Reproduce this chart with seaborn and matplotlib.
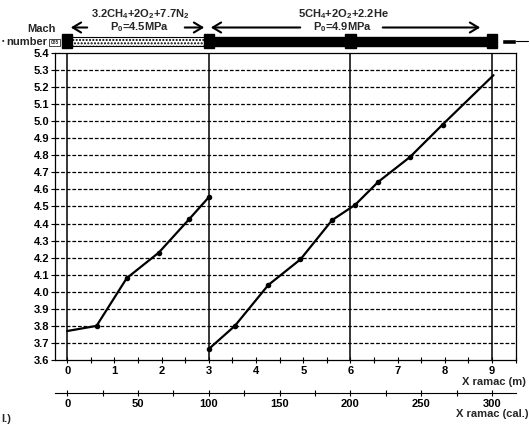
import numpy as np
import pandas as pd
import matplotlib
matplotlib.use("Agg")
import matplotlib.pyplot as plt
from matplotlib.patches import Rectangle
import seaborn as sns

# ---- data ----
seg1_x = [0.0, 0.62, 1.26, 1.94, 2.58, 3.0]
seg1_mach = [3.77, 3.80, 4.08, 4.23, 4.425, 4.555]
seg2_x = [3.0, 3.55, 4.26, 4.94, 5.61, 6.10, 6.59, 7.26, 7.95, 9.03]
seg2_mach = [3.665, 3.80, 4.04, 4.19, 4.42, 4.51, 4.645, 4.79, 4.98, 5.27]
m_ticks = list(range(0, 10))
cal_ticks = [0, 50, 100, 150, 200, 250, 300]
y_ticks = [round(3.6 + 0.1 * i, 1) for i in range(19)]
mix_labels = ["3.2CH$_4$+2O$_2$+7.7N$_2$", "5CH$_4$+2O$_2$+2.2He"]
press_labels = ["P$_0$=4.5MPa", "P$_0$=4.9MPa"]
stage_bounds = [0, 3, 6, 9]

sns.set_theme(style="white")
plt.rcParams['font.family'] = ['Liberation Sans', 'DejaVu Sans']
plt.rcParams['font.weight'] = 'bold'
plt.rcParams['mathtext.fontset'] = 'custom'
plt.rcParams['mathtext.rm'] = 'Liberation Sans:bold'
plt.rcParams['mathtext.it'] = 'Liberation Sans:bold'
plt.rcParams['mathtext.bf'] = 'Liberation Sans:bold'

FS = 8
W, H = 530, 424
fig = plt.figure(figsize=(W / 100, H / 100), dpi=100)
fig.patch.set_facecolor('white')

L, R, T, B = 55, 515.7, 53, 360
ax = fig.add_axes([L / W, 1 - B / H, (R - L) / W, (B - T) / H])
ax.set_facecolor('white')

df = pd.DataFrame({
    'x': seg1_x + seg2_x,
    'mach': seg1_mach + seg2_mach,
    'seg': [1] * len(seg1_x) + [2] * len(seg2_x),
})
# gridlines
for yv in y_ticks[1:-1]:
    ax.axhline(yv, color='black', lw=0.9, ls=(0, (3, 1.5)), zorder=1)
for xv in stage_bounds:
    ax.axvline(xv, color='black', lw=1.1, zorder=1)

sns.lineplot(data=df, x='x', y='mach', units='seg', estimator=None,
             color='black', lw=1.6, ax=ax, zorder=3)
marked = pd.concat([df[df.seg == 1].iloc[1:], df[df.seg == 2].iloc[:-1]])
sns.scatterplot(data=marked, x='x', y='mach', color='black', s=16,
                edgecolor='black', linewidth=0, ax=ax, zorder=4)

ax.set_xlim(-0.26, 9.5)
ax.set_ylim(3.6, 5.4)
ax.set_xlabel('')
ax.set_ylabel('')
ax.set_yticks(y_ticks)
ax.set_yticklabels([f"{v:.1f}" for v in y_ticks], fontsize=FS, fontweight='bold')
ax.set_xticks(m_ticks)
ax.set_xticklabels([str(v) for v in m_ticks], fontsize=FS, fontweight='bold')
ax.set_xticks(np.arange(0, 9.6, 0.5), minor=True)
ax.tick_params(axis='y', direction='out', length=3, width=0.8, pad=1, left=True, colors='black')
ax.tick_params(axis='x', which='both', direction='inout', length=4, width=0.8, pad=2.5, bottom=True, colors='black')
for sp in ax.spines.values():
    sp.set_color('black')
    sp.set_linewidth(0.9)

sec = ax.secondary_xaxis(-(393 - B) / (B - T), functions=(lambda m: m * 100 / 3, lambda c: c * 3 / 100))
sec.set_xticks(cal_ticks)
sec.set_xticklabels([str(v) for v in cal_ticks], fontsize=FS, fontweight='bold')
sec.set_xticks(np.arange(0, 320, 25), minor=True)
sec.tick_params(axis='x', which='both', direction='inout', length=4, width=0.8, pad=2, colors='black')
sec.spines['bottom'].set_linewidth(0.8)
sec.spines['bottom'].set_color('black')

fig.text(526 / W, 1 - 382 / H, "X ramac (m)", fontsize=FS, fontweight='bold', va='center', ha='right')
fig.text(528 / W, 1 - 414 / H, "X ramac (cal.)", fontsize=FS, fontweight='bold', va='center', ha='right')
fig.text(1 / W, 1 - 419 / H, "l.)", fontsize=FS, fontweight='bold', va='center', ha='left')

# ---- top schematic ----
axt = fig.add_axes([L / W, 1 - 52 / H, (R - L) / W, 52 / H])
axt.set_xlim(-0.26, 9.5)
axt.set_ylim(52, 0)
axt.axis('off')
px = lambda p: (p - 67.3) / 47.2
axt.add_patch(Rectangle((px(62), 36.5), px(208) - px(62), 9, facecolor='white',
                        edgecolor='black', hatch='.....', lw=0.8, clip_on=False))
axt.add_patch(Rectangle((3.0, 36.5), 6.0, 9, facecolor='black', edgecolor='black', clip_on=False))
for xb in stage_bounds:
    axt.add_patch(Rectangle((xb - 0.11, 33.5), 0.22, 14, facecolor='black', edgecolor='black', clip_on=False))
axt.add_patch(Rectangle((px(502), 39), px(516) - px(502), 4.5, facecolor='black', clip_on=False))
axt.plot([px(516), px(528)], [41.2, 41.2], color='black', lw=0.8, clip_on=False)

arrow_kw = dict(arrowstyle='->,head_length=0.5,head_width=0.3', color='black', lw=1.5)
for (x0, x1) in [(px(90), px(68)), (px(182), px(207)), (px(303), px(208)), (px(380), px(483))]:
    axt.annotate('', xy=(x1, 27.5), xytext=(x0, 27.5), arrowprops=arrow_kw, annotation_clip=False)
for cx, mix, pr in [(px(140), mix_labels[0], press_labels[0]), (px(343), mix_labels[1], press_labels[1])]:
    axt.text(cx, 14, mix, ha='center', va='center', fontsize=FS, fontweight='bold')
    axt.text(cx, 27.5, pr, ha='center', va='center', fontsize=FS, fontweight='bold')

fig.text(42 / W, 1 - 29 / H, "Mach", fontsize=FS, fontweight='bold', ha='center', va='center')
fig.text(47.5 / W, 1 - 42 / H, "number", fontsize=FS, fontweight='bold', ha='right', va='center')
fig.patches.append(Rectangle((49 / W, 1 - 45.5 / H), 11 / W, 7 / H, transform=fig.transFigure,
                             facecolor='white', edgecolor='black', lw=0.5))
fig.text(54.5 / W, 1 - 42 / H, "085", fontsize=3.5, ha='center', va='center')
fig.text(3 / W, 1 - 42 / H, "•", fontsize=5, ha='center', va='center')

fig.savefig('out.png', dpi=100, facecolor='white')
